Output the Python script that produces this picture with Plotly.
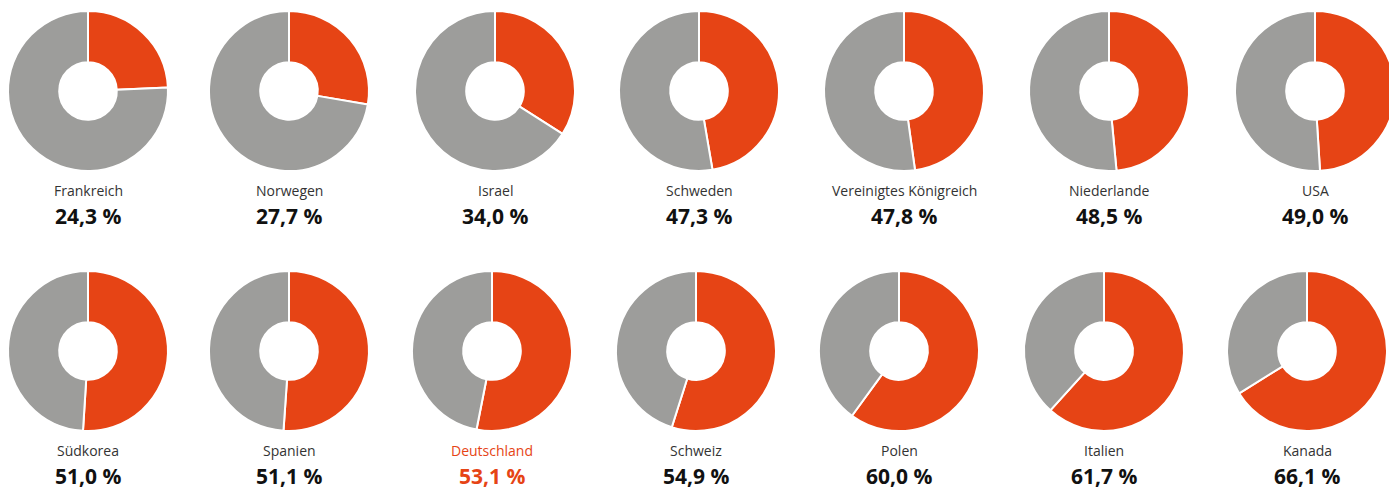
import plotly.graph_objects as go

countries = ["Frankreich", "Norwegen", "Israel", "Schweden", "Vereinigtes Königreich", "Niederlande", "USA",
             "Südkorea", "Spanien", "Deutschland", "Schweiz", "Polen", "Italien", "Kanada"]
shares = [24.3, 27.7, 34.0, 47.3, 47.8, 48.5, 49.0,
          51.0, 51.1, 53.1, 54.9, 60.0, 61.7, 66.1]
highlight = "Deutschland"

ORANGE = "#e64415"
GRAY = "#9d9d9b"
W, H = 1400, 490

row_cx = [[88, 289, 495, 699, 904, 1109, 1315],
          [88, 289, 492, 696, 899, 1104, 1307]]
row_cy = [91, 351]
R = 80

fig = go.Figure()
for i, (c, v) in enumerate(zip(countries, shares)):
    r, k = divmod(i, 7)
    cx, cy = row_cx[r][k], row_cy[r]
    fig.add_trace(go.Pie(
        values=[v, 100 - v], labels=["Anteil", "Rest"], sort=False, direction="clockwise",
        rotation=0, hole=0.36, textinfo="none", hoverinfo="skip", showlegend=False,
        marker=dict(colors=[ORANGE, GRAY], line=dict(color="white", width=2)),
        domain=dict(x=[(cx - R) / W, (cx + R) / W], y=[1 - (cy + R) / H, 1 - (cy - R) / H]),
    ))
    col_name = ORANGE if c == highlight else "#333333"
    col_val = ORANGE if c == highlight else "#111111"
    fig.add_annotation(x=cx / W, y=1 - (cy + 99) / H, xref="paper", yref="paper", text=c,
                       xanchor="center", yanchor="middle",
                       showarrow=False, font=dict(size=14, color=col_name, family="Open Sans"))
    fig.add_annotation(x=cx / W, y=1 - (cy + 125) / H, xref="paper", yref="paper",
                       xanchor="center", yanchor="middle",
                       text="<b>" + f"{v:.1f}".replace(".", ",") + " %</b>",
                       showarrow=False, font=dict(size=21, color=col_val, family="Open Sans"))

fig.update_layout(width=W, height=H, margin=dict(l=0, r=0, t=0, b=0),
                  paper_bgcolor="white", plot_bgcolor="white")
fig.write_html("out.html", config={"displayModeBar": False},
               post_script="document.body.style.margin='0';document.body.style.overflow='hidden';")
